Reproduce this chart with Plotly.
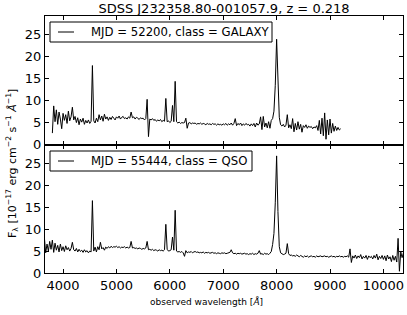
import numpy as np
import plotly.graph_objects as go
from plotly.subplots import make_subplots

title = "SDSS J232358.80-001057.9, z = 0.218"
label_top = "MJD = 52200, class = GALAXY"
label_bot = "MJD = 55444, class = QSO"

# wavelength grids (Angstrom)
wave_top = np.arange(3800, 9201, 25)
wave_bot = np.arange(3650, 10401, 25)

flux_top = [
    2.6, 8.8, 5.2, 7.9, 4.6, 7.4, 5.8, 3.6, 7.1, 5.5,
    6.8, 4.8, 7.6, 5.4, 6.3, 8.5, 5.6, 6.4, 5.0, 6.1,
    4.5, 5.8, 5.1, 6.0, 4.6, 5.5, 4.9, 5.6, 4.8, 5.3,
    18.0, 5.4, 4.9, 6.0, 5.2, 6.8, 5.6, 6.5, 5.3, 6.9,
    5.8, 6.3, 5.5, 6.2, 5.7, 6.4, 6.0, 5.6, 6.3, 6.0,
    6.5, 5.8, 6.2, 6.4, 5.9, 6.1, 5.8, 6.3, 6.0, 7.4,
    6.1, 6.3, 5.8, 6.2, 6.0, 5.7, 6.1, 5.9, 6.0, 5.6,
    5.9, 10.3, 1.8, 5.8, 5.6, 5.9, 5.5, 5.7, 5.3, 5.6,
    5.4, 5.7, 5.2, 5.5, 5.3, 10.5, 5.2, 5.4, 5.0, 5.3,
    8.9, 5.2, 14.4, 5.2, 4.9, 5.1, 4.8, 5.0, 4.9, 5.0,
    6.0, 3.7, 4.9, 5.0, 4.7, 4.9, 4.8, 4.9, 4.6, 4.8,
    4.7, 4.9, 4.6, 4.8, 4.7, 4.5, 4.8, 4.6, 4.7, 4.5,
    4.8, 4.6, 4.7, 4.4, 4.7, 4.5, 4.6, 4.4, 4.7, 4.5,
    4.8, 4.4, 4.7, 4.5, 4.9, 4.4, 4.8, 5.9, 4.3, 4.8,
    4.5, 4.9, 4.3, 4.7, 4.4, 4.8, 4.5, 4.6, 4.2, 4.7,
    4.3, 4.8, 4.0, 4.9, 4.4, 4.7, 6.3, 3.4, 6.4, 4.0,
    4.9, 3.8, 5.2, 3.7, 5.5, 5.9, 7.6, 13.5, 24.0, 12.0,
    6.2, 4.5, 4.2, 4.6, 4.0, 4.4, 6.8, 3.8, 4.5, 3.6,
    5.9, 2.9, 4.8, 3.3, 5.2, 3.5, 4.6, 2.8, 4.3, 3.9,
    4.5, 3.7, 4.2, 3.9, 4.1, 3.6, 4.0, 3.8, 4.3, 3.2,
    5.5, 2.4, 6.0, 2.0, 7.2, 1.2, 5.6, 2.2, 5.8, 2.6,
    4.8, 3.0, 4.2, 3.2, 3.9, 3.3, 3.6,
]

flux_bot = [
    8.1, 4.6, 6.6, 5.0, 7.2, 5.4, 7.5, 4.7, 6.8, 5.2,
    6.3, 4.8, 6.6, 5.1, 6.0, 4.9, 6.2, 5.3, 5.8, 5.0,
    5.6, 7.0, 5.3, 5.0, 5.6, 4.8, 5.4, 4.9, 5.2, 4.7,
    5.3, 4.8, 5.1, 4.6, 5.0, 4.8, 16.5, 5.0, 5.9, 4.8,
    6.0, 5.3, 7.0, 5.5, 5.8, 5.2, 5.9, 5.6, 6.0, 5.7,
    6.1, 5.8, 6.0, 5.9, 6.1, 5.8, 6.0, 5.7, 5.9, 5.8,
    6.0, 5.7, 5.9, 5.7, 5.8, 7.2, 5.7, 5.8, 5.6, 5.7,
    5.5, 5.7, 5.6, 5.4, 5.6, 5.5, 5.7, 7.2, 5.3, 5.4,
    5.2, 5.4, 5.1, 5.3, 5.2, 5.0, 5.3, 5.1, 5.2, 5.0,
    5.3, 11.1, 5.4, 5.0, 5.1, 5.3, 8.2, 5.2, 14.3, 5.0,
    4.8, 4.9, 4.7, 4.9, 4.6, 3.8, 5.1, 4.6, 4.8, 4.7,
    4.9, 4.6, 4.8, 4.9, 4.7, 4.8, 4.6, 4.7, 4.6, 4.8,
    4.5, 4.7, 4.6, 4.7, 4.5, 4.6, 4.7, 4.5, 4.6, 4.4,
    4.6, 4.5, 4.4, 4.6, 4.5, 4.6, 4.4, 4.5, 4.6, 4.7,
    5.3, 4.6, 4.4, 4.5, 4.3, 4.5, 4.4, 4.5, 4.3, 4.4,
    4.5, 4.3, 4.4, 4.2, 4.4, 4.3, 4.5, 4.2, 4.4, 4.3,
    4.5, 5.1, 4.3, 4.4, 4.2, 4.5, 4.3, 4.4, 4.2, 4.5,
    4.9, 6.5, 9.0, 16.0, 26.7, 14.0, 6.0, 4.6, 4.4, 4.2,
    4.3, 4.5, 6.7, 4.4, 4.0, 4.1, 3.9, 4.0, 3.8, 4.1,
    3.9, 3.7, 4.0, 3.8, 3.6, 3.9, 3.7, 3.9, 3.6, 3.8,
    3.9, 3.7, 3.8, 3.6, 3.9, 3.7, 3.8, 3.9, 3.7, 3.8,
    3.9, 3.7, 3.8, 3.6, 3.8, 3.9, 3.7, 3.8, 3.6, 3.8,
    3.7, 3.9, 3.7, 3.8, 3.6, 3.8, 3.7, 3.9, 3.6, 5.5,
    2.4, 3.9, 3.4, 4.1, 3.3, 3.9, 3.5, 4.2, 3.2, 3.8,
    3.4, 4.0, 3.1, 3.9, 3.5, 3.8, 3.2, 4.0, 3.4, 4.3,
    3.0, 3.8, 3.3, 4.0, 3.1, 3.9, 2.8, 4.1, 3.2, 3.7,
    2.6, 4.0, 2.9, 3.8, 2.5, 7.9, 0.4, 4.8, 3.5, 4.6,
    3.8,
]

x_ticks = [4000, 5000, 6000, 7000, 8000, 9000, 10000]
x_tick_labels = ["4000", "5000", "6000", "7000", "8000", "9000", "10000"]
y_ticks = [0, 5, 10, 15, 20, 25]
x_range = [3662, 10367]
y_range = [0, 29.3]

FONT = "DejaVu Sans"
W, H = 407, 315
ML, MR, MT, MB = 45, 4, 16, 42
PW, PH = W - ML - MR, H - MT - MB


def px_x(px):
    return (px - ML) / PW


def px_y(py):
    return (H - MB - py) / PH


fig = make_subplots(rows=2, cols=1, shared_xaxes=True, vertical_spacing=0)

fig.add_trace(go.Scatter(x=wave_top, y=flux_top, mode="lines", name=label_top,
                         line=dict(color="black", width=1), showlegend=False),
              row=1, col=1)
fig.add_trace(go.Scatter(x=wave_bot, y=flux_bot, mode="lines", name=label_bot,
                         line=dict(color="black", width=1), showlegend=False),
              row=2, col=1)

axis_common = dict(showline=True, linecolor="black", linewidth=1, mirror="allticks",
                   ticks="inside", ticklen=4, tickwidth=1, tickcolor="black",
                   showgrid=False, zeroline=False, automargin=False,
                   tickfont=dict(family=FONT, size=13, color="black"))

for r in (1, 2):
    fig.update_xaxes(range=x_range, tickvals=x_ticks, ticktext=x_tick_labels,
                     row=r, col=1, **axis_common)
    fig.update_yaxes(range=y_range, tickvals=y_ticks, row=r, col=1, **axis_common)
fig.update_xaxes(showticklabels=False, row=1, col=1)

fig.update_layout(
    width=W, height=H,
    margin=dict(l=ML, r=MR, t=MT, b=MB, autoexpand=False),
    paper_bgcolor="white", plot_bgcolor="white",
    showlegend=False,
    title=dict(text=title, x=0.5, xref="paper", xanchor="center",
               y=1 - 8 / H, yref="container", yanchor="middle",
               font=dict(family=FONT, size=13, color="black")),
)

# legend boxes (drawn like matplotlib's framed legends)
for label, (top, bottom, right) in [(label_top, (22, 42, 272)), (label_bot, (151, 171, 252))]:
    fig.add_shape(type="rect", xref="paper", yref="paper",
                  x0=px_x(50), x1=px_x(right), y0=px_y(bottom), y1=px_y(top),
                  line=dict(color="black", width=1), fillcolor="white", layer="above")
    mid = (top + bottom) / 2
    fig.add_shape(type="line", xref="paper", yref="paper",
                  x0=px_x(58), x1=px_x(74), y0=px_y(mid), y1=px_y(mid),
                  line=dict(color="black", width=1), layer="above")
    fig.add_annotation(text=label, xref="paper", yref="paper", x=px_x(89), y=px_y(mid),
                       xanchor="left", yanchor="middle", showarrow=False,
                       font=dict(family=FONT, size=11.7, color="black"))

fig.add_annotation(text="observed wavelength [<i>Å</i>]", xref="paper", yref="paper",
                   x=px_x(206), y=px_y(301), xanchor="center", yanchor="middle",
                   showarrow=False, font=dict(family=FONT, size=9, color="black"))
fig.add_annotation(text="F<sub>λ</sub> [10<sup>−17</sup> erg cm<sup>−2</sup> s<sup>−1</sup> <i>Å</i><sup>−1</sup>]",
                   xref="paper", yref="paper", x=px_x(12), y=px_y(164),
                   xanchor="center", yanchor="middle", textangle=-90,
                   showarrow=False, font=dict(family=FONT, size=11, color="black"))

fig.write_html("out.html", config={"displayModeBar": False},
               post_script="document.body.style.margin='0px';")
